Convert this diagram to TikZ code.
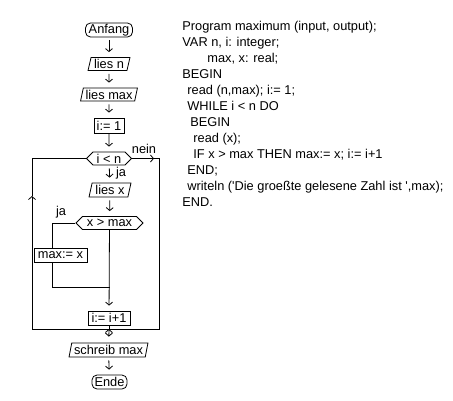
\documentclass[tikz,border=0pt]{standalone}
\usepackage{fontspec}
\setmainfont{Liberation Sans}
\usetikzlibrary{shapes.geometric}
\usetikzlibrary{shapes.symbols}
\usetikzlibrary{arrows.meta}
\usetikzlibrary{positioning}
\tikzset{flow/.style = {-{Straight Barb[length=3pt,width=7pt]}, shorten <=3pt, shorten >=5pt}}
\tikzset{terminal/.style = {draw, rounded corners=5pt, inner sep=0pt, minimum height=14pt}}
\tikzset{inout/.style = {draw, trapezium, trapezium left angle=75, trapezium right angle=105, trapezium stretches=true, inner sep=0pt, minimum height=13pt}}
\tikzset{process/.style = {draw, inner sep=0pt, minimum height=14pt}}
\tikzset{decision/.style = {draw, signal, signal to=east and west, inner sep=0pt, minimum height=13pt}}
\tikzset{code/.style = {anchor=base west, inner sep=0pt}}

\begin{document}
\begin{tikzpicture}[x=1pt, y=-1pt, line width=0.8pt, font=\fontsize{12.8}{15}\selectfont]
		\useasboundingbox (0,0) rectangle (453,400);
		%flowchart nodes
		\node[terminal, minimum width=47pt](anfang) at (109,30){Anfang};
		\node[inout, minimum width=42pt](liesn) at (109,64){lies n};
		\node[inout, minimum width=57pt](liesmax) at (109,94.5){lies max};
		\node[process, minimum width=30pt, minimum height=15pt](initi) at (109,125.5){i:= 1};
		\node[decision, minimum width=45pt](cond) at (109,158.5){i < n};
		\node[inout, minimum width=42pt, minimum height=14pt](liesx) at (110,190){lies x};
		\node[decision, minimum width=67pt](cmp) at (109.5,223){x > max};
		\node[process, minimum width=53pt](setmax) at (60.5,255){max:= x};
		\node[process, minimum width=42pt](inci) at (109,318){i:= i+1};
		\node[inout, minimum width=79pt, minimum height=14pt](output) at (108.5,350){schreib max};
		\node[terminal, minimum width=35pt](ende) at (109.5,382){Ende};

		%labels
		\node(ja1) at (121,173){ja};
		\node(nein) at (144,149){nein};
		\node(ja2) at (61,212){ja};

		%straight arrows
		\draw[flow] (anfang) -- (liesn);
		\draw[flow] (liesn) -- (liesmax);
		\draw[flow] (liesmax) -- (initi);
		\draw[flow, shorten <=0pt] (initi) -- (cond);
		\draw[flow] (cond) -- (liesx);
		\draw[flow] (liesx) -- (cmp);
		\draw[flow, shorten <=0pt] (cmp) -- (inci);
		\draw[flow] (output) -- (ende);

		%branch of the IF
		\coordinate(jatop) at (52,223);
		\coordinate(jabot) at (52,287);
		\draw (cmp.west) -- (jatop) -- (jatop |- setmax.north);
		\draw (jatop |- setmax.south) -- (jabot) -- (jabot -| cmp.south);

		%loop and exit
		\coordinate(botmid) at (109,329);
		\coordinate(upmark) at (32,196);
		\coordinate(neinmark) at (154,158.5);
		\coordinate(botright) at (159,329);
		\draw (inci) -- (botmid);
		\draw[flow, shorten <=0pt, shorten >=0pt] (botmid) -| (upmark);
		\draw (upmark) |- (cond.west);
		\draw[flow, shorten <=0pt, shorten >=0pt] (cond.east) -- (neinmark);
		\draw (neinmark) -| (botright) -- (botmid);
		\draw[flow, {Straight Barb[length=3pt,width=7pt]}-{Straight Barb[length=3pt,width=7pt]}, shorten <=0pt, shorten >=6pt] (botmid) -- (output);

		%program text
		\node[code](l1) at (182,30){Program maximum (input, output);};
		\node[code](l2) at (182,46){VAR n, i: integer;};
		\node[code](l3) at (207,62){max, x: real;};
		\node[code](l4) at (182,78){BEGIN};
		\node[code](l5) at (187,94){read (n,max); i:= 1;};
		\node[code](l6) at (187,110){WHILE i < n DO};
		\node[code](l7) at (190,126){BEGIN};
		\node[code](l8) at (193,142){read (x);};
		\node[code](l9) at (193,158){IF x > max THEN max:= x; i:= i+1};
		\node[code](l10) at (187,174){END;};
		\node[code](l11) at (187,190){writeln (\textquotesingle Die groeßte gelesene Zahl ist \textquotesingle,max);};
		\node[code](l12) at (182,206){END.};
\end{tikzpicture}
\end{document}
